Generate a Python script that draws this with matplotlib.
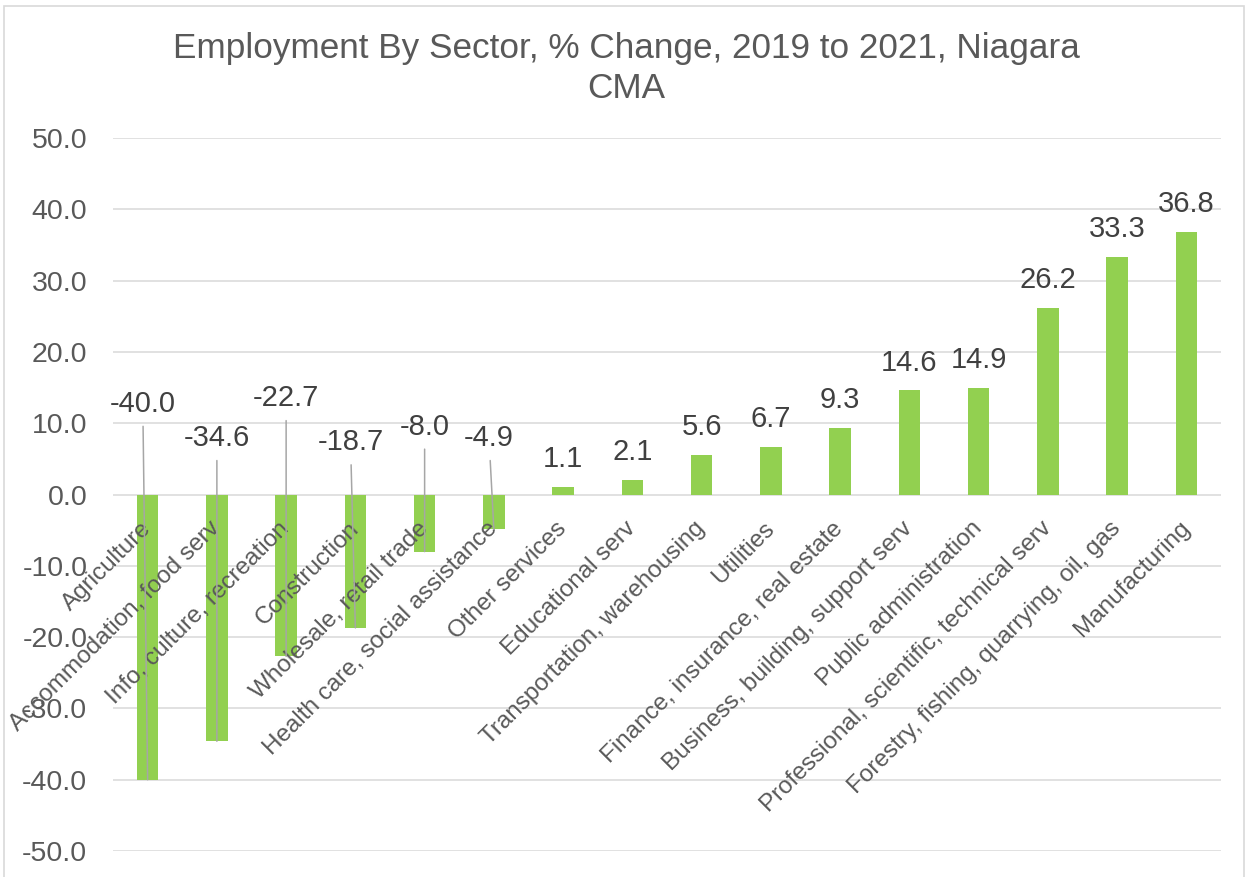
import matplotlib
matplotlib.use("Agg")
import matplotlib.pyplot as plt
from matplotlib.patches import Rectangle

plt.rcParams['font.family'] = ['Liberation Sans', 'DejaVu Sans']

# data
sectors = ["Agriculture", "Accommodation, food serv", "Info, culture, recreation",
           "Construction", "Wholesale, retail trade", "Health care, social assistance",
           "Other services", "Educational serv", "Transportation, warehousing",
           "Utilities", "Finance, insurance, real estate",
           "Business, building, support serv", "Public administration",
           "Professional, scientific, technical serv",
           "Forestry, fishing, quarrying, oil, gas", "Manufacturing"]
pct_change = [-40.0, -34.6, -22.7, -18.7, -8.0, -4.9, 1.1, 2.1, 5.6, 6.7,
              9.3, 14.6, 14.9, 26.2, 33.3, 36.8]
y_ticks = [-50, -40, -30, -20, -10, 0, 10, 20, 30, 40, 50]

# where the dragged labels of the negative bars sit (x shift, y level)
neg_label_dx = [-0.07, 0.0, 0.0, -0.07, 0.0, -0.07]
neg_label_y = [12.7, 7.9, 13.5, 7.3, 9.5, 7.9]

GREEN = '#92D050'
GREY_TXT = '#595959'
DARK_TXT = '#404040'

fig = plt.figure(figsize=(12.46, 8.77), dpi=100)
ax = fig.add_axes([0.0907, 0.0296, 0.8892, 0.813])

x = list(range(len(sectors)))
ax.bar(x, pct_change, width=0.31, color=GREEN, zorder=2)

ax.set_xlim(-0.5, len(sectors) - 0.5)
ax.set_ylim(-50, 50)
ax.set_yticks(y_ticks)
ax.set_yticklabels([f"{t:.1f}" for t in y_ticks], fontsize=20.5, color=GREY_TXT)
ax.tick_params(axis='y', length=0, pad=18.5)
ax.set_xticks([])
ax.grid(axis='y', color='#D9D9D9', lw=1.1, zorder=0)
ax.set_axisbelow(True)
for s in ax.spines.values():
    s.set_visible(False)

# category labels, ending just under the zero line
for i, name in enumerate(sectors):
    ax.annotate(name, xy=(i, 0), xytext=(0, -22), textcoords='offset points',
                rotation=45, rotation_mode='anchor', ha='right', va='center',
                fontsize=17.5, color=GREY_TXT, zorder=4)

# value labels
neg = 0
for i, v in enumerate(pct_change):
    if v >= 0:
        ax.annotate(f"{v:.1f}", xy=(i, v), xytext=(0, 10), textcoords='offset points',
                    ha='center', va='bottom', fontsize=21, color=DARK_TXT, zorder=5)
    else:
        ax.annotate(f"{v:.1f}", xy=(i, v),
                    xytext=(i + neg_label_dx[neg], neg_label_y[neg]), textcoords='data',
                    ha='center', va='center', fontsize=21, color=DARK_TXT, zorder=5,
                    arrowprops=dict(arrowstyle='-', color='#A6A6A6', lw=1.1,
                                    shrinkA=4, shrinkB=0))
        neg += 1

fig.text(0.5024, 0.922, "Employment By Sector, % Change, 2019 to 2021, Niagara\nCMA",
         ha='center', va='center', multialignment='center', fontsize=25.3,
         color=GREY_TXT, linespacing=1.25)

# chart border
fig.patches.append(Rectangle((0.003, -0.05), 0.995, 1.043, transform=fig.transFigure,
                             fill=False, edgecolor='#D9D9D9', lw=1.2))

fig.savefig("out.png", dpi=100)
